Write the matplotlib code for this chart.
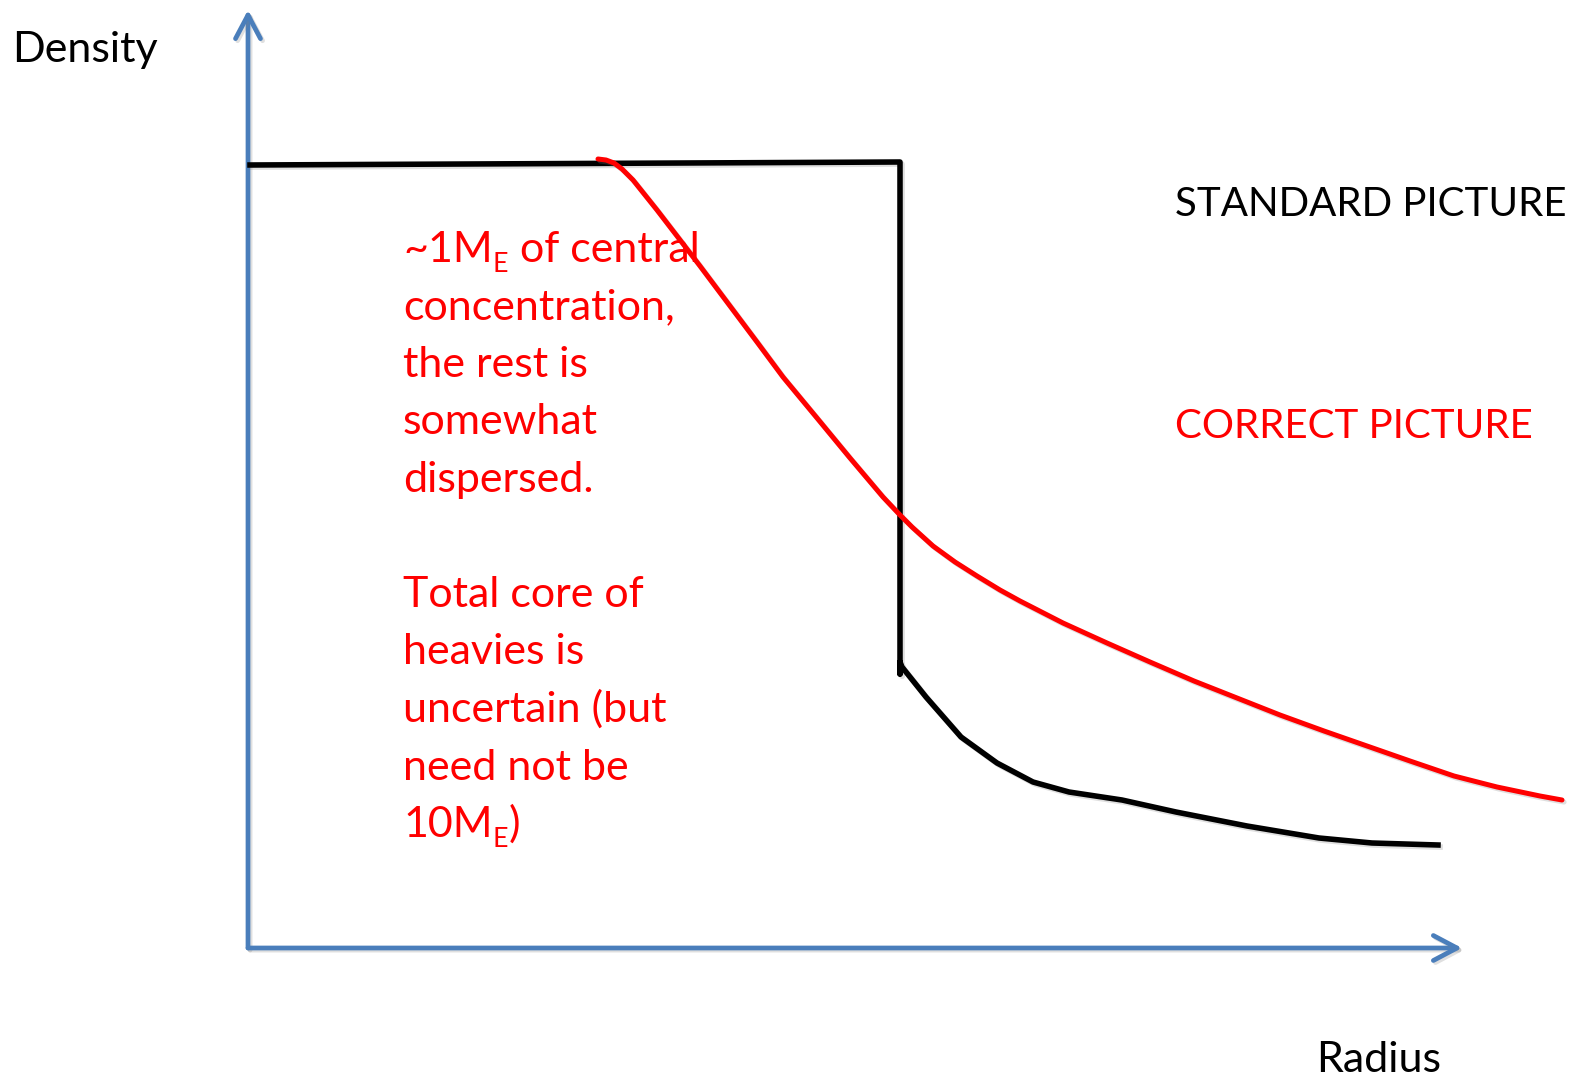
import matplotlib
matplotlib.use("Agg")
import matplotlib.pyplot as plt
import matplotlib.patheffects as pe
from matplotlib.patches import FancyArrowPatch

plt.rcParams['font.family'] = ['Lato', 'DejaVu Sans']

# Schematic curves (horizontal = radius, vertical = density; canvas units)
std_x = [250, 900, 900, 900, 902, 926, 961, 997, 1033, 1069, 1122, 1176, 1247, 1319, 1372, 1438]
std_y = [165, 162, 674, 662, 667, 697, 737, 763, 782, 792, 800, 812, 826, 838, 843, 845]
cor_x = [598, 606, 614, 622, 633, 645, 657, 677, 700, 730, 757, 783, 817, 850, 883, 900, 912, 933,
         955, 977, 1000, 1020, 1063, 1107, 1150, 1194, 1237, 1280, 1324, 1367, 1410, 1454, 1497,
         1540, 1562]
cor_y = [159, 160, 163, 169, 180, 195, 210, 236, 266, 306, 342, 377, 418, 458, 497, 515, 527, 546,
         562, 576, 590, 601, 623, 643, 662, 681, 698, 715, 731, 746, 761, 776, 787, 796, 800]

label_standard = "STANDARD PICTURE"
label_correct = "CORRECT PICTURE"
# each line: list of (text, is_subscript)
note_lines = [[("~1M", False), ("E", True), (" of central", False)],
              [("concentration,", False)], [("the rest is", False)], [("somewhat", False)],
              [("dispersed.", False)], [],
              [("Total core of", False)], [("heavies is", False)], [("uncertain (but", False)],
              [("need not be", False)], [("10M", False), ("E", True), (")", False)]]

W, H = 1574, 1084
fig = plt.figure(figsize=(W / 100, H / 100), dpi=100)
ax = fig.add_axes([0, 0, 1, 1])
ax.set_xlim(0, W)
ax.set_ylim(H, 0)
ax.axis('off')
renderer = fig.canvas.get_renderer()

shadow = [pe.SimpleLineShadow(offset=(1.5, -1.5), alpha=0.25, shadow_color='gray'), pe.Normal()]

blue = '#4a7ebb'
for start, end in [((248, 948), (248, 10)), ((248, 948), (1462, 948))]:
    arr = FancyArrowPatch(start, end, arrowstyle='->,head_length=0.85,head_width=0.45',
                          mutation_scale=20, color=blue, lw=3.4, capstyle='round',
                          joinstyle='round', shrinkA=0, shrinkB=0)
    arr.set_path_effects(shadow)
    ax.add_patch(arr)

ax.plot(std_x, std_y, color='black', lw=4.0, solid_joinstyle='round', path_effects=shadow)
ax.plot(cor_x, cor_y, color='#ff0000', lw=3.6, solid_capstyle='round',
        solid_joinstyle='round', path_effects=shadow)

fs = 31
fs_caps = 29
ax.text(12, 62, "Density", fontsize=fs, va='baseline', ha='left', color='black')
ax.text(1441, 1072, "Radius", fontsize=fs, va='baseline', ha='right', color='black')
ax.text(1175, 216, label_standard, fontsize=fs_caps, va='baseline', ha='left', color='black')
ax.text(1175, 438, label_correct, fontsize=fs_caps, va='baseline', ha='left', color='#ff0000')


def draw_runs(x, y, runs, size, color):
    for s, sub in runs:
        t = ax.text(x, y + (10 if sub else 0), s, fontsize=size * 0.62 if sub else size,
                    va='baseline', ha='left', color=color)
        bb = t.get_window_extent(renderer=renderer)
        x += bb.width + (1 if sub else 0)


y0 = 262
step = 57.5
for i, runs in enumerate(note_lines):
    if runs:
        draw_runs(403, y0 + i * step, runs, fs, '#ff0000')

fig.savefig('out.png', dpi=100, facecolor='white')
